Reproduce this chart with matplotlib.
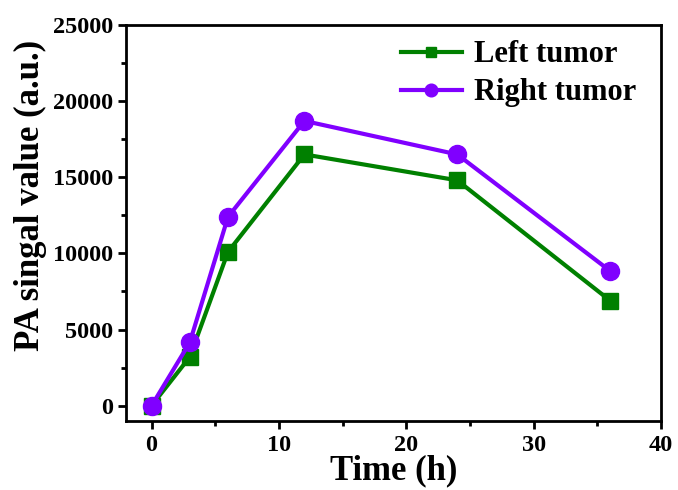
import matplotlib
matplotlib.use("Agg")
import matplotlib.pyplot as plt
from matplotlib.ticker import MultipleLocator

time_h = [0, 3, 6, 12, 24, 36]
left_tumor = [0, 3200, 10100, 16500, 14800, 6900]
right_tumor = [0, 4150, 12400, 18700, 16500, 8850]

plt.rcParams["font.family"] = "Liberation Serif"
plt.rcParams["font.weight"] = "bold"

fig = plt.figure(figsize=(6.78, 4.90), dpi=100)
ax = fig.add_axes([0.186, 0.141, 0.789, 0.808])

ax.plot(time_h, left_tumor, color="#008000", lw=3, marker="s", ms=11,
        label="Left tumor")
ax.plot(time_h, right_tumor, color="#8000FF", lw=3, marker="o", ms=13,
        label="Right tumor")

ax.set_xlim(-2, 40)
ax.set_ylim(-1000, 25000)
ax.xaxis.set_major_locator(MultipleLocator(10))
ax.xaxis.set_minor_locator(MultipleLocator(5))
ax.yaxis.set_major_locator(MultipleLocator(5000))
ax.yaxis.set_minor_locator(MultipleLocator(2500))
ax.tick_params(which="major", direction="out", length=6, width=2, labelsize=17.5)
ax.tick_params(axis="x", which="major", pad=4)
ax.tick_params(which="minor", direction="out", length=3.5, width=2)
for s in ax.spines.values():
    s.set_linewidth(2)

ax.set_xlabel("Time (h)", fontsize=25, fontweight="bold", labelpad=-1)
ax.set_ylabel("PA singal value (a.u.)", fontsize=25, fontweight="bold")
ax.yaxis.set_label_coords(-0.148, 0.57)

ax.legend(loc="upper right", bbox_to_anchor=(0.982, 1.0), frameon=False,
          prop={"size": 22, "weight": "bold"},
          handlelength=2.0, handletextpad=0.4, borderaxespad=0.1, labelspacing=0.3,
          markerscale=0.7)

fig.savefig("out.png", dpi=100)
